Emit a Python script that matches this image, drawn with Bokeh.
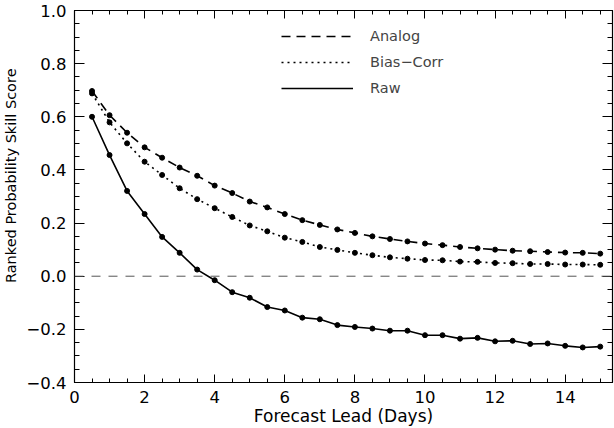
from bokeh.plotting import figure
from bokeh.models import (LinearAxis, Range1d, Span, Legend, LegendItem,
                          SingleIntervalTicker, ColumnDataSource, CustomJSTickFormatter)
from bokeh.embed import file_html
from bokeh.resources import INLINE

lead_days = [0.5, 1.0, 1.5, 2.0, 2.5, 3.0, 3.5, 4.0, 4.5, 5.0,
             5.5, 6.0, 6.5, 7.0, 7.5, 8.0, 8.5, 9.0, 9.5, 10.0,
             10.5, 11.0, 11.5, 12.0, 12.5, 13.0, 13.5, 14.0, 14.5, 15.0]

analog = [0.697, 0.606, 0.540, 0.485, 0.446, 0.409, 0.378, 0.341, 0.313, 0.281,
          0.259, 0.234, 0.211, 0.193, 0.176, 0.163, 0.150, 0.140, 0.131, 0.123,
          0.117, 0.110, 0.105, 0.100, 0.096, 0.094, 0.091, 0.089, 0.088, 0.085]

bias_corr = [0.688, 0.579, 0.500, 0.431, 0.381, 0.331, 0.290, 0.256, 0.223, 0.191,
             0.169, 0.145, 0.129, 0.110, 0.099, 0.088, 0.079, 0.071, 0.066, 0.061,
             0.060, 0.055, 0.054, 0.050, 0.049, 0.046, 0.046, 0.044, 0.044, 0.043]

raw = [0.600, 0.456, 0.321, 0.234, 0.148, 0.088, 0.025, -0.015, -0.060, -0.081,
       -0.116, -0.129, -0.156, -0.162, -0.184, -0.191, -0.197, -0.205, -0.205, -0.222,
       -0.222, -0.235, -0.232, -0.245, -0.243, -0.255, -0.253, -0.262, -0.268, -0.265]

series_names = ["Analog", "Bias\u2212Corr", "Raw"]
x_label = "Forecast Lead (Days)"
y_label = "Ranked Probability Skill Score"

FONT = "DejaVu Sans"
TICK_FS = "16.5px"
LABEL_FS = "17px"

p = figure(width=614, height=428, output_backend="svg", toolbar_location=None,
           x_range=Range1d(0, 15.35), y_range=Range1d(-0.4, 1.0),
           min_border_left=0, min_border_right=2, min_border_top=10,
           min_border_bottom=0)
p.outline_line_color = "black"
p.outline_line_width = 1.2
p.grid.visible = False
p.background_fill_color = "white"
p.border_fill_color = "white"

src = ColumnDataSource(dict(x=lead_days, a=analog, b=bias_corr, r=raw))

la = p.line("x", "a", source=src, line_color="black", line_width=1.6, line_dash="9 6")
ma = p.scatter("x", "a", source=src, size=5, color="black")
lb = p.line("x", "b", source=src, line_color="black", line_width=1.6, line_dash="2 4")
mb = p.scatter("x", "b", source=src, size=5, color="black")
lr = p.line("x", "r", source=src, line_color="black", line_width=1.6)
mr = p.scatter("x", "r", source=src, size=5, color="black")

p.add_layout(Span(location=0, dimension="width", line_color="#555555",
                  line_width=1, line_dash="9 8"))

def style_axis(ax, major, minor, labels=True):
    ax.major_tick_in = major
    ax.major_tick_out = 0
    ax.minor_tick_in = minor
    ax.minor_tick_out = 0
    ax.axis_line_color = "black"
    ax.major_tick_line_color = "black"
    ax.minor_tick_line_color = "black"
    ax.major_label_text_font = FONT
    ax.major_label_text_font_size = TICK_FS if labels else "0px"
    ax.major_label_text_color = "black"
    ax.axis_label_text_font = FONT
    ax.axis_label_text_font_size = LABEL_FS
    ax.axis_label_text_font_style = "normal"
    ax.axis_label_text_color = "black"
    if not labels:
        ax.major_label_standoff = 0

p.xaxis.ticker = SingleIntervalTicker(interval=2, num_minor_ticks=4)
p.yaxis.ticker = SingleIntervalTicker(interval=0.2, num_minor_ticks=4)
p.xaxis.axis_label = x_label
# leading no-break spaces lift the label toward the top, as in the reference
p.yaxis.axis_label = "\u00a0" * 9 + y_label
style_axis(p.xaxis[0], 8, 4)
style_axis(p.yaxis[0], 10, 5)
p.yaxis.axis_label_text_font_size = "14.5px"
p.xaxis.major_label_standoff = 8
p.yaxis.major_label_standoff = 8
p.xaxis.axis_label_standoff = 0
p.yaxis.axis_label_standoff = 4
p.yaxis.formatter = CustomJSTickFormatter(code="return tick.toFixed(1).replace('-', '\u2212');")

top = LinearAxis(ticker=SingleIntervalTicker(interval=2, num_minor_ticks=4))
style_axis(top, 8, 4, labels=False)
p.add_layout(top, "above")
right = LinearAxis(ticker=SingleIntervalTicker(interval=0.2, num_minor_ticks=4))
style_axis(right, 10, 5, labels=False)
p.add_layout(right, "right")

legend = Legend(items=[
    LegendItem(label=series_names[0], renderers=[la]),
    LegendItem(label=series_names[1], renderers=[lb]),
    LegendItem(label=series_names[2], renderers=[lr]),
], location=(207, 284))
legend.border_line_color = None
legend.background_fill_alpha = 0
legend.label_text_font = FONT
legend.label_text_font_size = "14.5px"
legend.glyph_width = 72
legend.glyph_height = 20
legend.label_height = 20
legend.spacing = 6
legend.padding = 10
legend.margin = 0
legend.label_standoff = 17
p.add_layout(legend, "center")

open("out.html", "w").write(file_html(p, INLINE))
